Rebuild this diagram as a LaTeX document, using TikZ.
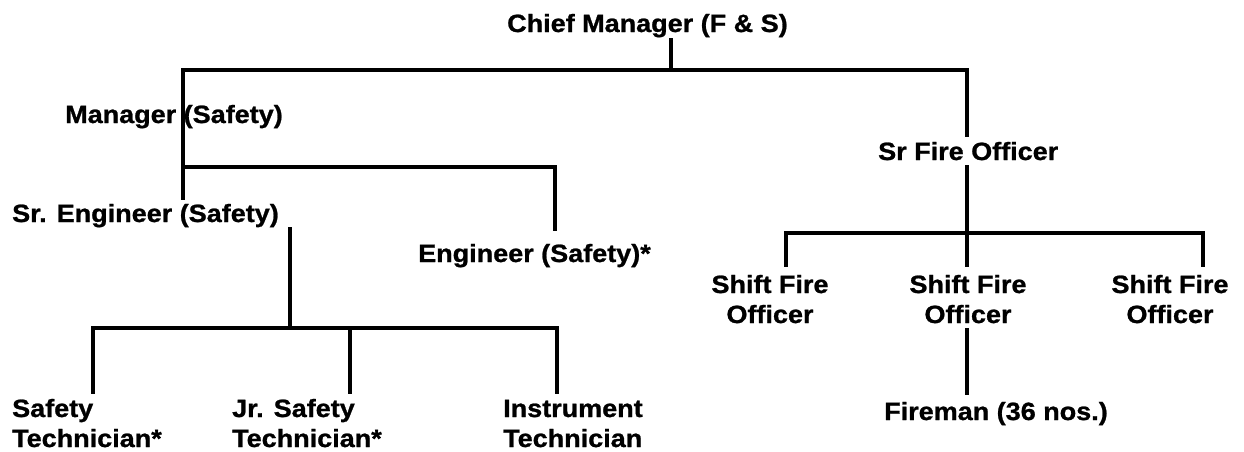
\documentclass[tikz,border=0pt]{standalone}
\usepackage{fontspec}
\newfontfamily\orgfont[FakeStretch=1.08,FakeBold=1]{Liberation Sans}
\tikzset{
  lbl/.style={inner sep=0pt, font=\orgfont\bfseries\fontsize{25}{30}\selectfont},
  lblL/.style={lbl, anchor=base west, align=left},
  lblC/.style={lbl, anchor=base, align=center},
  conn/.style={line width=3.5pt, line cap=rect, line join=miter}
}
\begin{document}
\begin{tikzpicture}[x=1pt,y=-1pt]
\useasboundingbox (0,0) rectangle (1244,451);
% labels (multi-line nodes: base is the last line)
\node[lblL] (chief) at (507,32) {Chief Manager (F \& S)};
\node[lblL] (mgr) at (65,123) {Manager (Safety)};
\node[lblL] (sreng) at (12,222) {Sr. Engineer (Safety)};
\node[lblL] (eng) at (418,262) {Engineer (Safety)*};
\node[lblL] (sfo) at (878,160) {Sr Fire Officer};
\node[lblC] (sh1) at (770,323) {Shift Fire\\Officer};
\node[lblC] (sh2) at (968,323) {Shift Fire\\Officer};
\node[lblC] (sh3) at (1170,323) {Shift Fire\\Officer};
\node[lblL] (fire) at (884,420) {Fireman (36 nos.)};
\node[lblL] (stech) at (12,447) {Safety\\Technician*};
\node[lblL] (jtech) at (232,447) {Jr. Safety\\Technician*};
\node[lblL] (itech) at (503,447) {Instrument\\Technician};
% junction coordinates
\coordinate (c0) at (671,40);
\coordinate (c1) at (671,70);
\coordinate (m0) at (183,70);
\coordinate (m1) at (183,198);
\coordinate (f0) at (967,70);
\coordinate (f1) at (967,135);
\coordinate (f2) at (967,167);
\coordinate (f3) at (967,233);
\coordinate (s1a) at (786,233);
\coordinate (s1b) at (786,265);
\coordinate (s2b) at (967,265);
\coordinate (s3a) at (1203,233);
\coordinate (s3b) at (1203,265);
\coordinate (fm0) at (967,330);
\coordinate (fm1) at (967,393);
\coordinate (e0) at (183,167);
\coordinate (e1) at (555,167);
\coordinate (e2) at (555,229);
\coordinate (t0) at (290,229);
\coordinate (t1) at (290,328);
\coordinate (ta) at (93,328);
\coordinate (tab) at (93,392);
\coordinate (tb) at (350,328);
\coordinate (tbb) at (350,392);
\coordinate (tc) at (557,328);
\coordinate (tcb) at (557,392);
% connectors
\draw[conn] (c0) -- (c1);
\draw[conn] (m1) -- (m0) -- (f0) -- (f1);
\draw[conn] (f2) -- (f3);
\draw[conn] (s1b) -- (s1a) -- (s3a) -- (s3b);
\draw[conn] (f3) -- (s2b);
\draw[conn] (fm0) -- (fm1);
\draw[conn] (e0) -- (e1) -- (e2);
\draw[conn] (t0) -- (t1);
\draw[conn] (tab) -- (ta) -- (tc) -- (tcb);
\draw[conn] (tb) -- (tbb);
\end{tikzpicture}
\end{document}
